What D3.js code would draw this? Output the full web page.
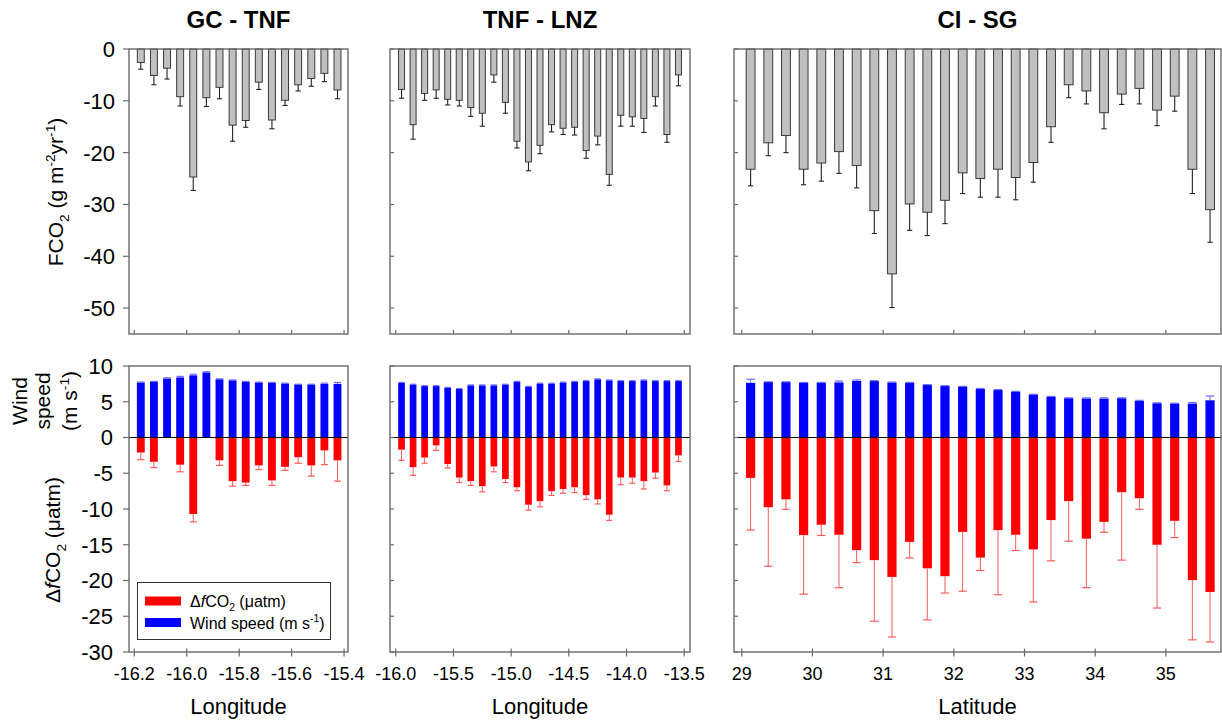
<!DOCTYPE html>
<html><head><meta charset="utf-8">
<script src="https://cdn.jsdelivr.net/npm/d3@7"></script>
<style>body{margin:0;background:#fff} svg{display:block;font-family:"Liberation Sans",Arial,sans-serif}</style>
</head><body>
<svg id="c" width="1222" height="721"></svg>
<script>
// ---------------- DATA ----------------
const panelTitles = ["GC - TNF", "TNF - LNZ", "CI - SG"];
const xTitles = ["Longitude", "Longitude", "Latitude"];

// GC - TNF
const gcPos = [-16.175,-16.125,-16.075,-16.025,-15.975,-15.925,-15.875,-15.825,-15.775,-15.725,-15.675,-15.625,-15.575,-15.525,-15.475,-15.425];
const gcFco2 = [-2.6,-5.1,-3.7,-9.2,-24.7,-9.4,-7.4,-14.7,-13.8,-6.4,-13.7,-9.9,-6.9,-5.7,-4.7,-7.9];
const gcFco2Err = [1.3,1.8,2.1,1.8,2.6,1.7,2.2,3.1,1.3,1.4,1.7,1.0,1.2,1.5,1.6,1.7];
const gcWind = [7.7,7.8,8.25,8.4,8.7,9.1,8.15,8.0,7.8,7.7,7.65,7.55,7.4,7.4,7.5,7.5];
const gcWindErr = [0.05,0.05,0.1,0.15,0.15,0.1,0.05,0.05,0.05,0.05,0.05,0.05,0.05,0.05,0.1,0.2];
const gcDfco2 = [-2.1,-3.4,null,-3.8,-10.7,null,-3.2,-6.1,-6.3,-3.9,-6.0,-4.1,-2.75,-3.9,-1.8,-3.2];
const gcDfco2Err = [1.0,0.8,null,1.0,1.1,null,0.7,0.7,0.4,0.6,0.7,0.5,0.85,1.5,2.0,2.9];
const gcTicks = [-16.2,-16.0,-15.8,-15.6,-15.4];

// TNF - LNZ
const tlPos = [-15.95,-15.85,-15.75,-15.65,-15.55,-15.45,-15.35,-15.25,-15.15,-15.05,-14.95,-14.85,-14.75,-14.65,-14.55,-14.45,-14.35,-14.25,-14.15,-14.05,-13.95,-13.85,-13.75,-13.65,-13.55];
const tlFco2 = [-7.8,-14.6,-8.6,-7.9,-9.7,-9.9,-11.3,-12.4,-5.0,-10.3,-17.8,-21.8,-18.6,-14.6,-15.3,-15.1,-19.6,-16.8,-24.2,-12.8,-13.1,-13.4,-9.2,-16.5,-5.0];
const tlFco2Err = [1.7,2.8,1.3,1.6,1.1,1.1,1.7,2.5,1.4,2.1,1.3,1.7,1.6,1.4,1.2,1.5,1.5,1.7,2.1,2.1,1.8,2.7,1.8,1.5,2.1];
const tlWind = [7.65,7.4,7.2,7.2,6.95,6.8,7.3,7.3,7.3,7.4,7.8,7.1,7.55,7.55,7.7,7.8,7.9,8.15,8.0,7.9,7.9,8.0,7.9,7.9,7.9];
const tlWindErr = [0.05,0.05,0.05,0.05,0.05,0.05,0.05,0.05,0.05,0.05,0.05,0.05,0.05,0.05,0.05,0.05,0.05,0.05,0.05,0.05,0.05,0.05,0.05,0.05,0.05];
const tlDfco2 = [-1.7,-4.15,-2.8,-1.1,-3.7,-5.6,-6.1,-6.8,-4.05,-5.8,-6.95,-9.4,-8.9,-7.5,-7.2,-6.95,-8.05,-8.65,-10.8,-5.6,-5.6,-6.1,-4.9,-6.7,-2.5];
const tlDfco2Err = [1.5,1.15,0.8,0.7,0.55,0.7,0.6,0.8,0.75,0.5,0.5,0.75,0.8,0.6,0.6,0.75,0.6,0.65,0.8,1.0,0.8,1.1,0.8,0.75,0.85];
const tlTicks = [-16.0,-15.5,-15.0,-14.5,-14.0,-13.5];

// CI - SG
const csPos = [29.125,29.375,29.625,29.875,30.125,30.375,30.625,30.875,31.125,31.375,31.625,31.875,32.125,32.375,32.625,32.875,33.125,33.375,33.625,33.875,34.125,34.375,34.625,34.875,35.125,35.375,35.625];
const csFco2 = [-23.2,-18.1,-16.7,-23.2,-22.0,-19.8,-22.5,-31.2,-43.4,-29.9,-31.5,-29.2,-23.9,-25.0,-23.2,-24.8,-21.9,-15.0,-6.9,-8.1,-12.3,-8.7,-7.6,-11.8,-9.1,-23.2,-31.0];
const csFco2Err = [3.2,2.5,3.3,3.0,3.5,4.2,4.3,4.4,6.5,5.1,4.5,4.5,4.0,3.6,5.4,4.3,3.8,3.0,2.5,2.5,3.1,2.0,3.0,3.0,2.9,4.7,6.3];
const csWind = [7.65,7.75,7.75,7.65,7.65,7.7,7.9,7.9,7.7,7.65,7.35,7.2,7.1,6.8,6.65,6.4,6.0,5.7,5.5,5.45,5.45,5.5,5.1,4.8,4.75,4.75,5.2];
const csWindErr = [0.5,0.05,0.05,0.05,0.05,0.2,0.15,0.05,0.05,0.05,0.05,0.05,0.05,0.05,0.05,0.05,0.05,0.05,0.05,0.1,0.1,0.05,0.1,0.05,0.05,0.15,0.6];
const csDfco2 = [-5.65,-9.75,-8.65,-13.65,-12.2,-13.6,-15.75,-17.15,-19.5,-14.6,-18.3,-19.4,-13.2,-16.8,-12.95,-13.6,-15.65,-11.55,-8.9,-14.15,-11.8,-7.65,-8.5,-15.0,-11.65,-19.95,-21.6];
const csDfco2Err = [7.3,8.25,1.4,8.25,1.5,7.4,1.75,8.55,8.4,2.25,7.2,2.35,8.3,1.8,9.05,2.2,7.35,5.7,5.6,6.85,1.45,9.5,1.55,8.85,2.35,8.35,7.0];
const csTicks = [29,30,31,32,33,34,35];

const fco2Ticks = [0,-10,-20,-30,-40,-50];
const bottomTicks = [10,5,0,-5,-10,-15,-20,-25,-30];
const legendLabels = ["ΔfCO2 (μatm)", "Wind speed (m s-1)"];

// ---------------- LAYOUT ----------------
const svg = d3.select("#c");
const FONT = '"Liberation Sans",Arial,sans-serif';
const TOP = {y0: 49, y1: 334};
const BOT = {y0: 366, y1: 652};
const frameColor = "#6a6a6a";

const panels = [
  {x0:129, x1:348, domain:[-16.22,-15.385], pos:gcPos, fco2:gcFco2, fco2Err:gcFco2Err, wind:gcWind, windErr:gcWindErr, df:gcDfco2, dfErr:gcDfco2Err, ticks:gcTicks, fmt:d=>d.toFixed(1), step:0.05, fTop:0.53, fBot:0.6, labels:true},
  {x0:390, x1:690, domain:[-16.05,-13.45], pos:tlPos, fco2:tlFco2, fco2Err:tlFco2Err, wind:tlWind, windErr:tlWindErr, df:tlDfco2, dfErr:tlDfco2Err, ticks:tlTicks, fmt:d=>d.toFixed(1), step:0.1, fTop:0.52, fBot:0.58, labels:false},
  {x0:734, x1:1221, domain:[28.89,35.78], pos:csPos, fco2:csFco2, fco2Err:csFco2Err, wind:csWind, windErr:csWindErr, df:csDfco2, dfErr:csDfco2Err, ticks:csTicks, fmt:d=>String(d), step:0.25, fTop:0.5, fBot:0.52, labels:false}
];

const yTop = d3.scaleLinear().domain([-55,0]).range([TOP.y1, TOP.y0]);
const yBot = d3.scaleLinear().domain([-30,10]).range([BOT.y1, BOT.y0]);

function rich(textSel, parts, fs){
  let cur = 0;
  parts.forEach(p=>{
    const target = p.sub ? fs*0.28 : p.sup ? -fs*0.38 : 0;
    const ts = textSel.append("tspan").attr("dy", target-cur).text(p.t);
    if(p.sub||p.sup) ts.attr("font-size", fs*0.65);
    if(p.it) ts.attr("font-style","italic");
    cur = target;
  });
}

panels.forEach((P, pi)=>{
  const x = d3.scaleLinear().domain(P.domain).range([P.x0, P.x1]);
  const stepPx = x(P.domain[0]+P.step) - x(P.domain[0]);
  const wTop = stepPx*P.fTop, wBot = stepPx*P.fBot;

  // title
  svg.append("text").attr("x",(P.x0+P.x1)/2).attr("y",28).attr("text-anchor","middle")
    .attr("font-size",24).attr("font-weight","bold").attr("font-family",FONT).text(panelTitles[pi]);

  // ---- TOP: FCO2 ----
  const gT = svg.append("g");
  gT.selectAll("rect.b").data(P.fco2).join("rect")
    .attr("x",(d,i)=>x(P.pos[i])-wTop/2).attr("width",wTop)
    .attr("y",yTop(0)).attr("height",d=>yTop(d)-yTop(0))
    .attr("fill","#c0c0c0").attr("stroke","#3a3a3a").attr("stroke-width",1);
  P.fco2.forEach((d,i)=>{
    const cx = x(P.pos[i]), ya = yTop(d), yb = yTop(d-P.fco2Err[i]);
    gT.append("line").attr("x1",cx).attr("x2",cx).attr("y1",ya).attr("y2",yb).attr("stroke","#222").attr("stroke-width",1.1);
    gT.append("line").attr("x1",cx-2.6).attr("x2",cx+2.6).attr("y1",yb).attr("y2",yb).attr("stroke","#222").attr("stroke-width",1.1);
  });
  // y ticks
  fco2Ticks.forEach(t=>{
    const yy = yTop(t);
    if(P.labels){
      gT.append("line").attr("x1",P.x0-6).attr("x2",P.x0).attr("y1",yy).attr("y2",yy).attr("stroke",frameColor).attr("stroke-width",1.2);
      gT.append("text").attr("x",P.x0-14).attr("y",yy).attr("dy","0.36em").attr("text-anchor","end")
        .attr("font-size",22).attr("font-family",FONT).text(String(t));
    } else {
      gT.append("line").attr("x1",P.x0).attr("x2",P.x0+4).attr("y1",yy).attr("y2",yy).attr("stroke",frameColor).attr("stroke-width",1.2);
    }
  });
  P.ticks.forEach(t=>{
    gT.append("line").attr("x1",x(t)).attr("x2",x(t)).attr("y1",TOP.y1-4).attr("y2",TOP.y1).attr("stroke",frameColor).attr("stroke-width",1.2);
  });
  gT.append("rect").attr("x",P.x0).attr("y",TOP.y0).attr("width",P.x1-P.x0).attr("height",TOP.y1-TOP.y0)
    .attr("fill","none").attr("stroke",frameColor).attr("stroke-width",1.4);

  // ---- BOTTOM: wind + dfCO2 ----
  const gB = svg.append("g");
  gB.selectAll("rect.w").data(P.wind).join("rect")
    .attr("x",(d,i)=>x(P.pos[i])-wBot/2).attr("width",wBot)
    .attr("y",d=>yBot(d)).attr("height",d=>yBot(0)-yBot(d)).attr("fill","#0000ff");
  gB.selectAll("rect.r").data(P.df.map((d,i)=>({d,i})).filter(o=>o.d!==null)).join("rect")
    .attr("x",o=>x(P.pos[o.i])-wBot/2).attr("width",wBot)
    .attr("y",yBot(0)).attr("height",o=>yBot(o.d)-yBot(0)).attr("fill","#ff0000");
  P.wind.forEach((d,i)=>{
    const cx = x(P.pos[i]), ya = yBot(d), yb = yBot(d+P.windErr[i]);
    gB.append("line").attr("x1",cx).attr("x2",cx).attr("y1",ya).attr("y2",yb).attr("stroke","#6a6aff").attr("stroke-width",1);
    gB.append("line").attr("x1",cx-wBot*0.45).attr("x2",cx+wBot*0.45).attr("y1",yb).attr("y2",yb).attr("stroke","#6a6aff").attr("stroke-width",1.2);
  });
  P.df.forEach((d,i)=>{
    if(d===null) return;
    const cx = x(P.pos[i]), ya = yBot(d), yb = yBot(d-P.dfErr[i]);
    gB.append("line").attr("x1",cx).attr("x2",cx).attr("y1",ya).attr("y2",yb).attr("stroke","#ff5a5a").attr("stroke-width",1);
    gB.append("line").attr("x1",cx-wBot*0.45).attr("x2",cx+wBot*0.45).attr("y1",yb).attr("y2",yb).attr("stroke","#ff5a5a").attr("stroke-width",1.2);
  });
  gB.append("line").attr("x1",P.x0).attr("x2",P.x1).attr("y1",yBot(0)).attr("y2",yBot(0)).attr("stroke","#000").attr("stroke-width",1.1);
  bottomTicks.forEach(t=>{
    const yy = yBot(t);
    if(P.labels){
      gB.append("line").attr("x1",P.x0-6).attr("x2",P.x0).attr("y1",yy).attr("y2",yy).attr("stroke",frameColor).attr("stroke-width",1.2);
      gB.append("text").attr("x",P.x0-16).attr("y",yy).attr("dy","0.36em").attr("text-anchor","end")
        .attr("font-size",22).attr("font-family",FONT).text(String(t));
    } else {
      gB.append("line").attr("x1",P.x0).attr("x2",P.x0+4).attr("y1",yy).attr("y2",yy).attr("stroke",frameColor).attr("stroke-width",1.2);
    }
  });
  P.ticks.forEach(t=>{
    gB.append("line").attr("x1",x(t)).attr("x2",x(t)).attr("y1",BOT.y1-3.5).attr("y2",BOT.y1+4.5).attr("stroke",frameColor).attr("stroke-width",1.2);
    gB.append("text").attr("x",x(t)).attr("y",680).attr("text-anchor","middle")
      .attr("font-size",18).attr("font-family",FONT).text(P.fmt(t));
  });
  gB.append("rect").attr("x",P.x0).attr("y",BOT.y0).attr("width",P.x1-P.x0).attr("height",BOT.y1-BOT.y0)
    .attr("fill","none").attr("stroke",frameColor).attr("stroke-width",1.4);

  // x title
  svg.append("text").attr("x",(P.x0+P.x1)/2).attr("y",714).attr("text-anchor","middle")
    .attr("font-size",22).attr("font-family",FONT).text(xTitles[pi]);
});

// ---- y axis titles ----
const yl1 = svg.append("text").attr("transform","translate(63,192) rotate(-90)").attr("text-anchor","middle")
  .attr("font-size",21).attr("font-family",FONT);
rich(yl1,[{t:"FCO"},{t:"2",sub:true},{t:" (g m"},{t:"-2",sup:true},{t:"yr"},{t:"-1",sup:true},{t:")"}],21);

[["Wind",27],["speed",50],["(m s",77]].forEach(([s,xx],k)=>{
  const t = svg.append("text").attr("transform",`translate(${xx},401) rotate(-90)`).attr("text-anchor","middle")
    .attr("font-size",21).attr("font-family",FONT);
  if(k<2) t.text(s);
  else rich(t,[{t:"(m s"},{t:"-1",sup:true},{t:")"}],21);
});
const yl3 = svg.append("text").attr("transform","translate(60,540) rotate(-90)").attr("text-anchor","middle")
  .attr("font-size",21).attr("font-family",FONT);
rich(yl3,[{t:"Δ"},{t:"f",it:true},{t:"CO"},{t:"2",sub:true},{t:" (μatm)"}],21);

// ---- legend ----
const lg = svg.append("g");
lg.append("rect").attr("x",137.5).attr("y",582.5).attr("width",193).attr("height",57)
  .attr("fill","#fff").attr("stroke","#333").attr("stroke-width",1);
const swatchColors = ["#ff0000","#0000ff"];
legendLabels.forEach((lab,k)=>{
  const yy = 601 + k*21.5;
  lg.append("rect").attr("x",145).attr("y",yy-4.5).attr("width",36).attr("height",9).attr("fill",swatchColors[k]);
  const t = lg.append("text").attr("x",190).attr("y",yy+6).attr("font-size",16).attr("font-family",FONT);
  if(k===0) rich(t,[{t:"Δ"},{t:"f",it:true},{t:"CO"},{t:"2",sub:true},{t:" (μatm)"}],16);
  else rich(t,[{t:"Wind speed (m s"},{t:"-1",sup:true},{t:")"}],16);
});
</script>
</body></html>
